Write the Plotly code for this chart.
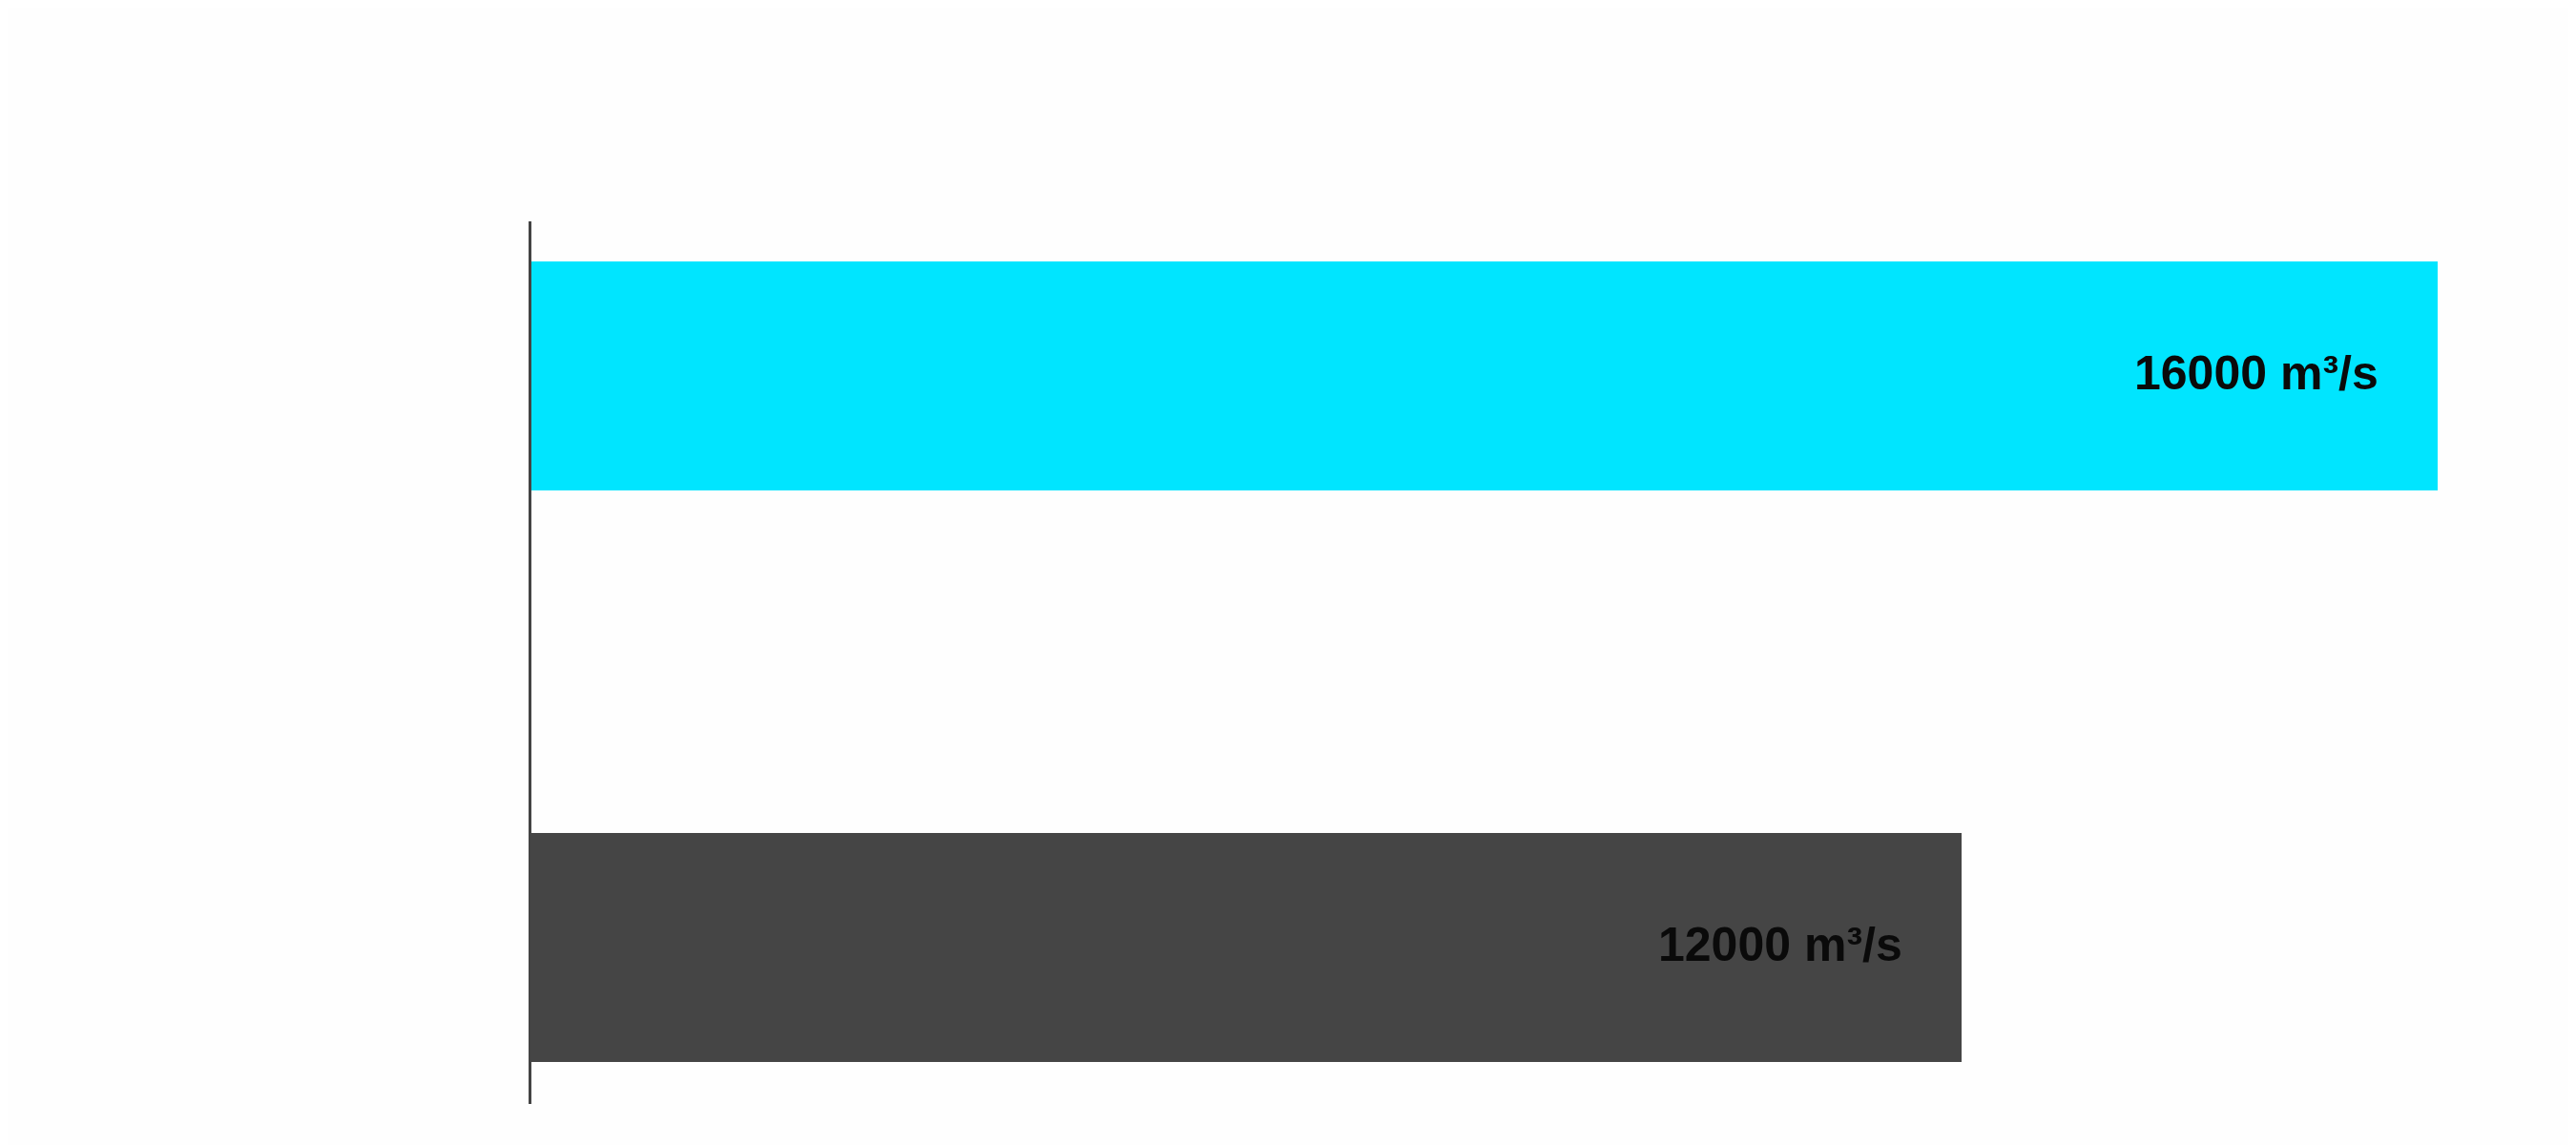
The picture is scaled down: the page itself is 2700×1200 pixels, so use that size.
import plotly.graph_objects as go

categories = ["B", "A"]          # bottom to top
values = [12000, 16000]
colors = ["#454545", "#00E5FF"]
unit = "m³/s"

positions = list(range(len(categories)))

fig = go.Figure()
fig.add_trace(go.Bar(
    x=values,
    y=positions,
    orientation="h",
    width=0.4,
    marker=dict(color=colors, line=dict(width=0)),
    hoverinfo="skip",
    showlegend=False,
))

for p, v in zip(positions, values):
    fig.add_annotation(
        x=v, y=p, xref="x", yref="y",
        text=f"<b>{v} {unit}</b>",
        showarrow=False,
        xanchor="right", yanchor="middle",
        xshift=-60, yshift=3,
        font=dict(family="Liberation Sans, Arial, sans-serif", size=50, color="#0a0a0a"),
    )

fig.update_layout(
    width=2700, height=1200,
    paper_bgcolor="#FEFEFE",
    plot_bgcolor="#FEFEFE",
    margin=dict(l=549, r=20, t=224, b=51),
    bargap=0,
)
fig.update_xaxes(range=[0, 17065], visible=False, showgrid=False, zeroline=False)
fig.update_yaxes(
    range=[-0.2738, 1.2705],
    showgrid=False, zeroline=False,
    showticklabels=False, ticks="",
    showline=True, linecolor="#444444", linewidth=3,
)

fig.write_html("out.html")
